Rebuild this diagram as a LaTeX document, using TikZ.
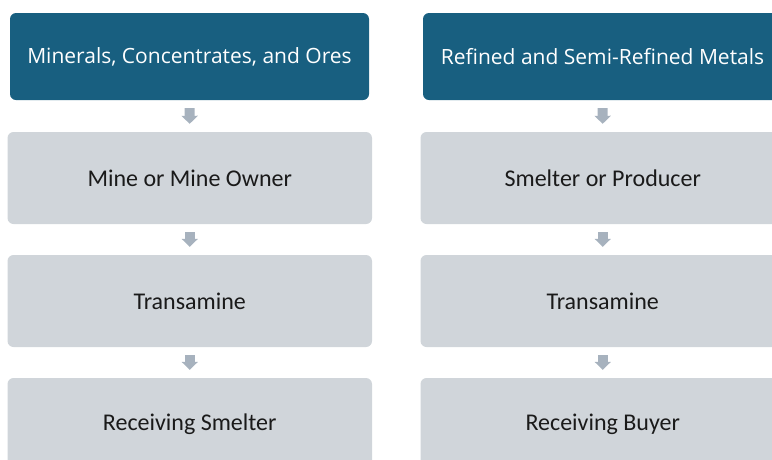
\documentclass[tikz,border=0pt]{standalone}
\usepackage{fontspec}
\setmainfont{Carlito}
\newfontfamily\hdrfont{Open Sans}
\usetikzlibrary{arrows.meta}
\definecolor{hdrblue}{HTML}{185F80}
\definecolor{boxgray}{HTML}{D0D5DA}
\definecolor{arrgray}{HTML}{A7B2BE}
\definecolor{txtdark}{HTML}{1A1A1A}
\tikzset{
  hdrbox/.style={fill=hdrblue, draw=none, rounded corners=6pt, minimum width=359pt, minimum height=87pt, inner sep=0pt, text=white, font=\hdrfont\fontsize{21}{25}\selectfont},
  graybox/.style={fill=boxgray, draw=none, rounded corners=6pt, minimum width=364.5pt, minimum height=92pt, inner sep=0pt, text=txtdark, font=\fontsize{24}{28}\selectfont},
  blockarrow/.style={draw=arrgray, line width=10pt, -{Triangle[length=8pt,width=16pt]}, shorten <=8pt, shorten >=8pt}
}
\begin{document}
\begin{tikzpicture}[x=1pt,y=-1pt]
\useasboundingbox (0,0) rectangle (772,459);
\clip (0,0) rectangle (772,459);
% left column
\node[hdrbox] (h1) at (189.5,56.5) {Minerals, Concentrates, and Ores};
\node[graybox] (a1) at (189.75,178) {Mine or Mine Owner};
\node[graybox] (a2) at (189.75,301) {Transamine};
\node[graybox] (a3) at (189.75,424) {Receiving Smelter};
% right column
\node[hdrbox] (h2) at (602.5,56.5) {Refined and Semi-Refined Metals};
\node[graybox] (b1) at (602.75,178) {Smelter or Producer};
\node[graybox] (b2) at (602.75,301) {Transamine};
\node[graybox] (b3) at (602.75,424) {Receiving Buyer};
% arrows
\draw[blockarrow] (h1.south) -- (a1.north);
\draw[blockarrow] (a1.south) -- (a2.north);
\draw[blockarrow] (a2.south) -- (a3.north);
\draw[blockarrow] (h2.south) -- (b1.north);
\draw[blockarrow] (b1.south) -- (b2.north);
\draw[blockarrow] (b2.south) -- (b3.north);
\end{tikzpicture}
\end{document}
